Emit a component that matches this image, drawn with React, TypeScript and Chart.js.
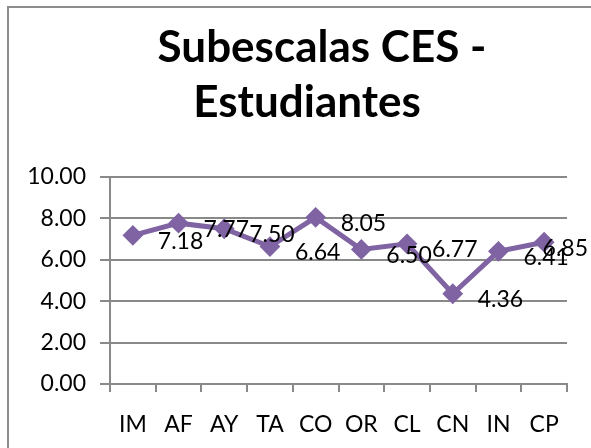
import { useEffect, useRef } from 'react';
import { Chart, registerables } from 'chart.js';

Chart.register(...registerables);

const categories = ['IM', 'AF', 'AY', 'TA', 'CO', 'OR', 'CL', 'CN', 'IN', 'CP'];
const values = [7.18, 7.77, 7.5, 6.64, 8.05, 6.5, 6.77, 4.36, 6.41, 6.85];
const titleLines = ['Subescalas CES -', 'Estudiantes'];
const yMin = 0;
const yMax = 10;
const yStep = 2;

const FONT = 'Lato, "Open Sans", sans-serif';
const GRID = '#898989';
const PURPLE = '#7f63a2';

const framePlugin = {
  id: 'frame',
  beforeDraw(chart: any) {
    const { ctx, width, height } = chart;
    ctx.save();
    ctx.fillStyle = '#ffffff';
    ctx.fillRect(0, 0, width, height);
    ctx.strokeStyle = '#8c8c8c';
    ctx.lineWidth = 2;
    ctx.strokeRect(8, 7, width + 10, height + 10);
    ctx.restore();
  },
};

const titlePlugin = {
  id: 'twoLineTitle',
  afterDraw(chart: any) {
    const { ctx } = chart;
    ctx.save();
    ctx.fillStyle = '#000000';
    ctx.font = `bold 44px ${FONT}`;
    ctx.textAlign = 'center';
    ctx.textBaseline = 'alphabetic';
    ctx.fillText(titleLines[0], 322, 62);
    ctx.fillText(titleLines[1], 307, 117);
    ctx.restore();
  },
};

const labelPlugin = {
  id: 'valueLabels',
  afterDatasetsDraw(chart: any) {
    const { ctx, width } = chart;
    const meta = chart.getDatasetMeta(0);
    const data = chart.data.datasets[0].data as number[];
    ctx.save();
    ctx.fillStyle = '#000000';
    ctx.font = `23px ${FONT}`;
    ctx.textAlign = 'left';
    ctx.textBaseline = 'middle';
    meta.data.forEach((pt: any, i: number) => {
      const txt = data[i].toFixed(2);
      const w = ctx.measureText(txt).width;
      let x = pt.x + 25;
      if (x + w > width - 3) x = width - 3 - w;
      ctx.fillText(txt, x, pt.y + 6);
    });
    ctx.restore();
  },
};

export default function App() {
  const ref = useRef<HTMLCanvasElement | null>(null);
  useEffect(() => {
    if (!ref.current) return;
    const chart = new Chart(ref.current, {
      type: 'line',
      data: {
        labels: categories,
        datasets: [
          {
            data: values,
            borderColor: PURPLE,
            backgroundColor: PURPLE,
            borderWidth: 5,
            pointStyle: 'rectRot',
            pointRadius: 9,
            pointBorderWidth: 2,
            pointBorderColor: PURPLE,
            pointBackgroundColor: PURPLE,
            tension: 0,
            fill: false,
          },
        ],
      },
      options: {
        responsive: false,
        animation: false,
        devicePixelRatio: 1,
        layout: { padding: { top: 177, left: 0, right: 24, bottom: 0 } },
        plugins: {
          legend: { display: false },
          title: { display: false },
          tooltip: { enabled: false },
        },
        scales: {
          x: {
            type: 'category',
            offset: true,
            afterFit(scale: any) {
              scale.height = 64;
            },
            grid: {
              display: true,
              offset: true,
              drawOnChartArea: false,
              drawTicks: true,
              tickLength: 8,
              color: GRID,
              lineWidth: 2,
            },
            border: { display: true, color: GRID, width: 2 },
            ticks: {
              color: '#000000',
              font: { family: FONT, size: 23 },
              padding: 19,
              maxRotation: 0,
              autoSkip: false,
            },
          },
          y: {
            min: yMin,
            max: yMax,
            afterFit(scale: any) {
              scale.width = 110;
            },
            grid: {
              display: true,
              drawTicks: true,
              tickLength: 10,
              color: GRID,
              lineWidth: 2,
            },
            border: { display: true, color: GRID, width: 2 },
            ticks: {
              stepSize: yStep,
              color: '#000000',
              font: { family: FONT, size: 23 },
              padding: 14,
              callback: (v: any) => Number(v).toFixed(2),
            },
          },
        },
      },
      plugins: [framePlugin, titlePlugin, labelPlugin],
    });
    return () => chart.destroy();
  }, []);
  return (
    <div style={{ position: 'absolute', left: 0, top: 0, width: 591, height: 448 }}>
      <canvas ref={ref} width={591} height={448} style={{ width: 591, height: 448, display: 'block' }} />
    </div>
  );
}
